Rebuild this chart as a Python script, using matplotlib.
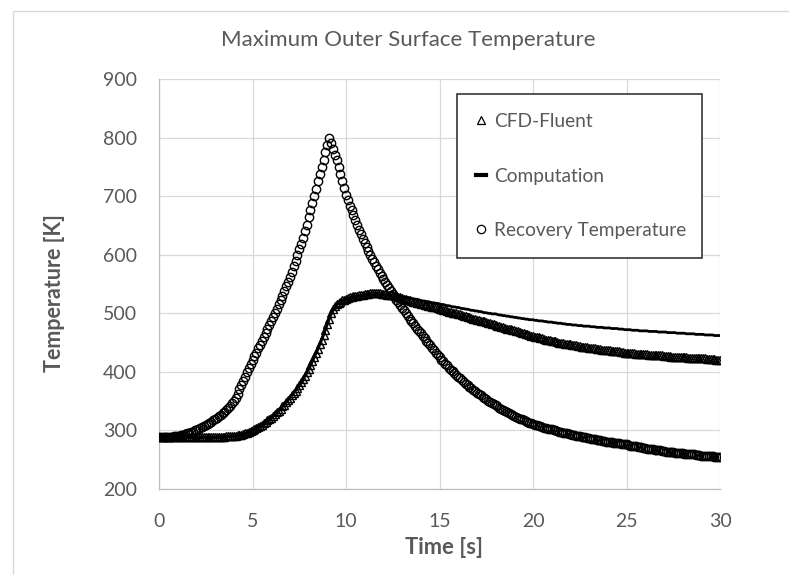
import numpy as np
import matplotlib
matplotlib.use("Agg")
import matplotlib.pyplot as plt
from matplotlib.patches import Rectangle

time_s = np.round(np.arange(301) * 0.1, 1)   # 0.0 .. 30.0 s

recovery = [
    288, 288, 288, 288, 288, 289, 289, 289, 290, 290,   # 0
    291, 291, 292, 293, 294, 295, 296, 297, 298, 300,   # 1
    301, 303, 304, 306, 308, 309, 311, 313, 315, 317,   # 2
    319, 321, 324, 326, 329, 332, 335, 338, 342, 346,   # 3
    350, 356, 363, 370, 377, 384, 392, 400, 407, 413,   # 4
    420, 427, 433, 440, 446, 453, 460, 466, 473, 480,   # 5
    487, 494, 501, 508, 515, 523, 530, 538, 546, 554,   # 6
    562, 571, 580, 589, 599, 609, 619, 629, 640, 651,   # 7
    665, 677, 689, 701, 713, 725, 737, 750, 762, 775,   # 8
    788, 800, 791, 781, 771, 761, 750, 738, 726, 714,   # 9
    702, 693, 684, 676, 667, 659, 651, 643, 635, 627,   # 10
    620, 613, 606, 599, 593, 587, 581, 575, 569, 563,   # 11
    558, 553, 548, 543, 538, 533, 528, 523, 519, 514,   # 12
    509, 505, 500, 496, 491, 487, 483, 479, 474, 470,   # 13
    466, 462, 457, 453, 449, 445, 441, 437, 433, 429,   # 14
    425, 421, 418, 414, 411, 407, 404, 401, 398, 395,   # 15
    392, 389, 386, 383, 380, 377, 374, 372, 369, 367,   # 16
    364, 362, 360, 357, 355, 353, 351, 349, 347, 345,   # 17
    343, 341, 339, 337, 335, 333, 331, 330, 328, 326,   # 18
    325, 323, 322, 320, 319, 317, 316, 315, 313, 312,   # 19
    311, 310, 309, 308, 307, 306, 305, 304, 303, 302,   # 20
    302, 301, 300, 299, 298, 297, 296, 296, 295, 294,   # 21
    294, 293, 292, 291, 291, 290, 289, 288, 288, 287,   # 22
    287, 286, 285, 285, 284, 284, 283, 282, 282, 281,   # 23
    281, 280, 280, 279, 279, 278, 278, 277, 277, 276,   # 24
    276, 275, 274, 274, 273, 273, 272, 271, 271, 270,   # 25
    270, 269, 269, 268, 268, 267, 267, 266, 266, 265,   # 26
    265, 264, 264, 264, 263, 263, 262, 262, 262, 261,   # 27
    261, 260, 260, 260, 259, 259, 259, 258, 258, 258,   # 28
    257, 257, 257, 256, 256, 256, 256, 255, 255, 255,   # 29
    255]                                                # 30

cfd_fluent = [
    288, 288, 288, 288, 288, 288, 288, 288, 288, 288,   # 0
    288, 288, 288, 288, 288, 288, 288, 288, 288, 288,   # 1
    288, 288, 288, 288, 288, 288, 288, 288, 288, 288,   # 2
    288, 288, 289, 289, 289, 289, 290, 290, 290, 290,   # 3
    291, 291, 292, 292, 293, 294, 295, 296, 297, 299,   # 4
    301, 303, 305, 306, 308, 310, 312, 315, 317, 320,   # 5
    322, 325, 328, 331, 334, 337, 341, 344, 348, 352,   # 6
    356, 360, 364, 368, 373, 377, 382, 387, 393, 399,   # 7
    405, 411, 418, 425, 432, 439, 447, 455, 463, 472,   # 8
    481, 491, 500, 507, 512, 515, 518, 520, 522, 523,   # 9
    525, 526, 527, 528, 529, 530, 530, 531, 532, 532,   # 10
    533, 533, 533, 534, 534, 534, 534, 534, 534, 533,   # 11
    533, 533, 532, 532, 531, 531, 530, 529, 528, 527,   # 12
    526, 525, 524, 523, 522, 521, 520, 519, 518, 517,   # 13
    516, 515, 514, 514, 513, 512, 511, 510, 510, 509,   # 14
    508, 507, 506, 505, 504, 503, 502, 501, 500, 500,   # 15
    499, 498, 497, 496, 495, 494, 493, 492, 491, 490,   # 16
    489, 488, 487, 487, 486, 485, 484, 483, 482, 481,   # 17
    480, 479, 478, 477, 476, 475, 474, 473, 473, 472,   # 18
    471, 470, 469, 468, 467, 466, 465, 464, 463, 462,   # 19
    461, 460, 459, 459, 458, 457, 456, 455, 455, 454,   # 20
    453, 452, 452, 451, 450, 450, 449, 448, 448, 447,   # 21
    447, 446, 445, 445, 444, 444, 443, 443, 442, 442,   # 22
    441, 441, 440, 440, 439, 439, 439, 438, 438, 437,   # 23
    437, 437, 436, 436, 435, 435, 435, 434, 434, 433,   # 24
    433, 433, 432, 432, 432, 431, 431, 431, 430, 430,   # 25
    430, 430, 429, 429, 429, 429, 428, 428, 428, 428,   # 26
    427, 427, 427, 427, 426, 426, 426, 426, 425, 425,   # 27
    425, 425, 425, 424, 424, 424, 424, 424, 423, 423,   # 28
    423, 423, 423, 422, 422, 422, 422, 422, 421, 421,   # 29
    421]                                                # 30

computation = [
    288, 288, 288, 288, 288, 288, 288, 288, 288, 288,   # 0
    288, 288, 288, 288, 288, 288, 288, 288, 288, 288,   # 1
    288, 288, 288, 288, 288, 288, 288, 288, 288, 288,   # 2
    288, 288, 289, 289, 289, 289, 290, 290, 290, 290,   # 3
    291, 291, 292, 292, 293, 294, 295, 296, 297, 299,   # 4
    301, 303, 305, 306, 308, 310, 312, 315, 317, 320,   # 5
    322, 325, 328, 331, 334, 337, 341, 344, 348, 352,   # 6
    356, 360, 364, 368, 373, 377, 382, 387, 393, 399,   # 7
    405, 411, 418, 425, 432, 439, 447, 455, 463, 472,   # 8
    481, 490, 498, 505, 510, 514, 517, 519, 521, 523,   # 9
    524, 525, 526, 527, 528, 528, 529, 529, 530, 530,   # 10
    531, 531, 531, 532, 532, 532, 532, 532, 532, 532,   # 11
    532, 531, 531, 531, 531, 530, 530, 530, 529, 529,   # 12
    528, 528, 527, 527, 526, 525, 525, 524, 524, 523,   # 13
    522, 521, 521, 520, 520, 519, 518, 518, 517, 517,   # 14
    516, 515, 515, 514, 513, 513, 512, 511, 511, 510,   # 15
    510, 509, 508, 508, 507, 507, 506, 505, 505, 504,   # 16
    504, 503, 503, 502, 501, 501, 500, 500, 499, 499,   # 17
    499, 498, 497, 497, 496, 496, 495, 495, 494, 494,   # 18
    493, 493, 492, 492, 491, 491, 490, 490, 489, 489,   # 19
    489, 488, 488, 487, 487, 487, 486, 486, 485, 485,   # 20
    485, 484, 484, 483, 483, 483, 482, 482, 481, 481,   # 21
    481, 480, 480, 480, 479, 479, 479, 478, 478, 478,   # 22
    478, 477, 477, 477, 476, 476, 476, 476, 475, 475,   # 23
    475, 475, 474, 474, 474, 474, 473, 473, 473, 472,   # 24
    472, 472, 472, 471, 471, 471, 471, 470, 470, 470,   # 25
    470, 470, 469, 469, 469, 469, 469, 468, 468, 468,   # 26
    468, 468, 467, 467, 467, 467, 467, 466, 466, 466,   # 27
    466, 466, 465, 465, 465, 465, 465, 464, 464, 464,   # 28
    464, 464, 463, 463, 463, 463, 463, 462, 462, 462,   # 29
    462]                                                # 30

series_labels = ["CFD-Fluent", "Computation", "Recovery Temperature"]
x_ticks = [0, 5, 10, 15, 20, 25, 30]
y_ticks = [200, 300, 400, 500, 600, 700, 800, 900]

# ---------------- figure ----------------
plt.rcParams['font.family'] = ['Lato', 'DejaVu Sans']
W, H = 789, 575
fig = plt.figure(figsize=(W / 100, H / 100), dpi=100)
fig.patch.set_facecolor('white')

# outer chart border
fig.patches.append(Rectangle((13 / W, -0.1), 1.2, 1 - 11 / H + 0.1, transform=fig.transFigure,
                             fill=False, edgecolor='#d9d9d9', linewidth=1.0))

L, R, T, B = 159, 720, 79, 489
ax = fig.add_axes([L / W, 1 - B / H, (R - L) / W, (B - T) / H])

grey = '#595959'
ax.plot(time_s, cfd_fluent, linestyle='none', marker='^', markersize=6.0,
        markerfacecolor='none', markeredgecolor='black', markeredgewidth=1.0,
        label=series_labels[0], zorder=3)
ax.plot(time_s, computation, color='black', linewidth=2.0,
        label=series_labels[1], zorder=4)
ax.plot(time_s, recovery, linestyle='none', marker='o', markersize=6.0,
        markerfacecolor='none', markeredgecolor='black', markeredgewidth=1.0,
        label=series_labels[2], zorder=5)

ax.set_xlim(0, 30)
ax.set_ylim(200, 900)
ax.set_xticks(x_ticks)
ax.set_yticks(y_ticks)
ax.grid(True, color='#d9d9d9', linewidth=0.9, zorder=0)
ax.set_axisbelow(True)
for s in ['top', 'right']:
    ax.spines[s].set_visible(False)
for s in ['left', 'bottom']:
    ax.spines[s].set_color('#bfbfbf')
    ax.spines[s].set_linewidth(0.9)
ax.tick_params(axis='both', length=0, labelsize=14, labelcolor=grey)
ax.tick_params(axis='y', pad=16)
ax.tick_params(axis='x', pad=17)

fig.text(408 / W, 1 - 40 / H, "Maximum Outer Surface Temperature", ha='center', va='center',
         fontsize=16, color=grey)
fig.text(444 / W, 1 - 548 / H, "Time [s]", ha='center', va='center',
         fontsize=15.8, fontweight='bold', color=grey)
fig.text(55 / W, 1 - 293 / H, "Temperature [K]", ha='center', va='center', rotation=90,
         fontsize=15.5, fontweight='bold', color=grey)

x0 = (457 - L) / (R - L)
wdt = (702 - 457) / (R - L)
ytop = (B - 94) / (B - T)
leg = ax.legend(loc='upper left', bbox_to_anchor=(x0, 0, wdt, ytop), mode='expand',
                fontsize=13.8, frameon=True, fancybox=False, framealpha=1,
                edgecolor='#262626', borderpad=1.0, labelspacing=1.95,
                handlelength=0.5, handletextpad=0.45, borderaxespad=0,
                labelcolor=grey)
leg.get_frame().set_linewidth(1.1)
leg.set_zorder(10)
for h in leg.legend_handles:
    try:
        h.set_linewidth(3.0)
        h.set_markeredgewidth(0.9)
    except Exception:
        pass

fig.savefig('out.png', dpi=100, facecolor='white')
